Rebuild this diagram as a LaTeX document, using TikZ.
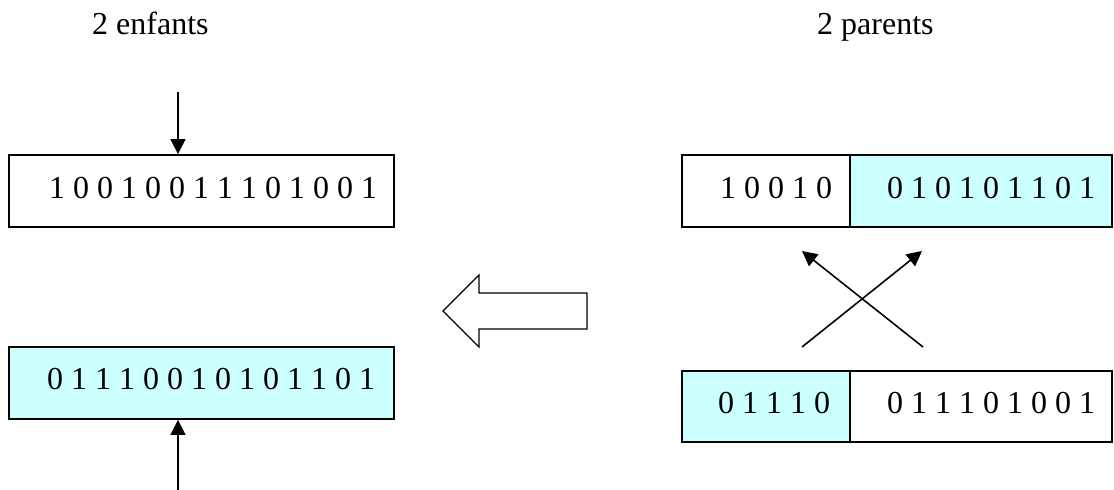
\documentclass[tikz,border=0pt]{standalone}
\usepackage{fontspec}
\setmainfont{Liberation Serif}
\usetikzlibrary{arrows.meta}
\definecolor{genecyan}{HTML}{CCFFFF}
\begin{document}
\begin{tikzpicture}[x=1pt,y=-1pt,
  box/.style={draw=black,line width=1.8pt,rectangle,inner sep=0pt},
  bits/.style={anchor=base west,inner sep=0pt,font=\fontsize{32}{38}\selectfont},
  title/.style={anchor=base west,inner sep=0pt,font=\fontsize{32}{38}\selectfont},
  link/.style={line width=1.6pt,-{Triangle[length=15pt,width=15pt]}},
  bigarrow/.style={draw=black,line width=1.2pt,fill=white,line join=miter}]
  \useasboundingbox (0,0) rectangle (1114,490);

  % headings
  \node[title] (hchild) at (92,34) {2 enfants};
  \node[title] (hparent) at (817,34) {2 parents};

  % children chromosomes
  \node[box,minimum width=385pt,minimum height=72pt] (c1) at (201.5,191) {};
  \node[box,fill=genecyan,minimum width=385pt,minimum height=72pt] (c2) at (201.5,383) {};
  \node[bits] (t1) at (49,198) {1 0 0 1 0 0 1 1 1 0 1 0 0 1};
  \node[bits] (t2) at (47,389) {0 1 1 1 0 0 1 0 1 0 1 1 0 1};

  % parent chromosomes, split at the crossover point
  \node[box,minimum width=168pt,minimum height=72pt] (p1a) at (766,191) {};
  \node[box,fill=genecyan,minimum width=262pt,minimum height=72pt] (p1b) at (981,191) {};
  \node[box,fill=genecyan,minimum width=168pt,minimum height=71pt] (p2a) at (766,406.5) {};
  \node[box,minimum width=262pt,minimum height=71pt] (p2b) at (981,406.5) {};
  \node[bits] (tp1a) at (720,198) {1 0 0 1 0};
  \node[bits] (tp1b) at (887,198) {0 1 0 1 0 1 1 0 1};
  \node[bits] (tp2a) at (718,413) {0 1 1 1 0};
  \node[bits] (tp2b) at (887,413) {0 1 1 1 0 1 0 0 1};

  % arrows into the children
  \coordinate (inA) at (178,92);
  \coordinate (inB) at (178,490);
  \draw[link] (inA) -- (inA |- c1.north);
  \draw[link] (inB) -- (inB |- c2.south);

  % crossing arrows between the parents
  \coordinate (xl0) at (802,347);
  \coordinate (xr0) at (923,347);
  \coordinate (xl1) at (802,251);
  \coordinate (xr1) at (922,251);
  \draw[link] (xr0) -- (xl1);
  \draw[link] (xl0) -- (xr1);

  % hollow block arrow pointing to the children
  \draw[bigarrow] (587,293) -- (479,293) -- (479,275) -- (443,311)
    -- (479,347) -- (479,329) -- (587,329) -- cycle;
\end{tikzpicture}
\end{document}
